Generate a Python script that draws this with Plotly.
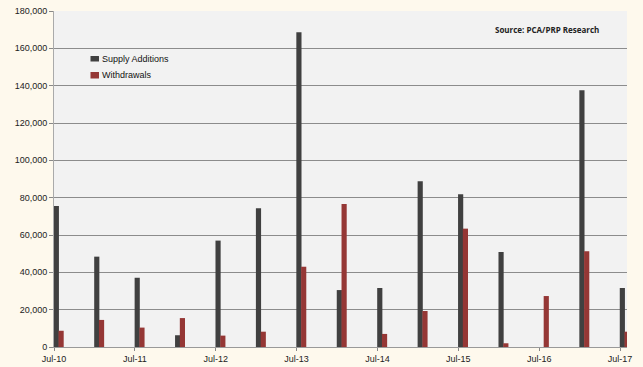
import plotly.graph_objects as go

# Half-yearly periods and the volumes added / withdrawn in each
periods = ["Jul-10", "Jan-11", "Jul-11", "Jan-12", "Jul-12", "Jan-13", "Jul-13", "Jan-14",
           "Jul-14", "Jan-15", "Jul-15", "Jan-16", "Jul-16", "Jan-17", "Jul-17"]
supply_additions = [75500, 48400, 37100, 6300, 57000, 74300, 168600, 30500,
                    31600, 88800, 81800, 50900, 0, 137600, 31600]
withdrawals = [8700, 14500, 10400, 15500, 6100, 8200, 43000, 76600,
               7000, 19300, 63400, 2000, 27300, 51300, 8200]
tick_labels = ["Jul-10", "Jul-11", "Jul-12", "Jul-13", "Jul-14", "Jul-15", "Jul-16", "Jul-17"]
y_ticks = list(range(0, 180001, 20000))

series_names = ["Supply Additions", "Withdrawals"]
series_colors = ["#404040", "#953735"]

# numeric position of each period (in years)
x_pos = [2010.5 + 0.5 * i for i in range(len(periods))]
tick_pos = [2010.5 + i for i in range(len(tick_labels))]

bar_w = 0.064
fig = go.Figure()
fig.add_trace(go.Bar(
    x=x_pos, y=supply_additions, name=series_names[0],
    width=bar_w, offset=-0.003,
    marker=dict(color=series_colors[0], line=dict(width=0)),
    customdata=periods, hovertemplate="%{customdata}: %{y:,}<extra>Supply Additions</extra>",
))
fig.add_trace(go.Bar(
    x=x_pos, y=withdrawals, name=series_names[1],
    width=bar_w, offset=bar_w - 0.008,
    marker=dict(color=series_colors[1], line=dict(width=0)),
    customdata=periods, hovertemplate="%{customdata}: %{y:,}<extra>Withdrawals</extra>",
))

fig.update_layout(
    width=643, height=367,
    margin=dict(l=54, r=16, t=11, b=20),
    paper_bgcolor="#fef9ed",
    plot_bgcolor="#f2f2f2",
    barmode="overlay",
    font=dict(family="Liberation Sans, Arial, sans-serif", size=9, color="#222222"),
    showlegend=False,
    xaxis=dict(
        range=[2010.5, 2017.5 + 7 / 81],
        tickmode="array", tickvals=tick_pos, ticktext=tick_labels,
        ticks="outside", ticklen=3, tickcolor="#888888",
        showline=True, linecolor="#999999", linewidth=1,
        showgrid=False, zeroline=False, automargin=False,
        tickfont=dict(size=9, color="#222222"),
    ),
    yaxis=dict(
        range=[0, 180000],
        tickmode="array", tickvals=y_ticks, tickformat=",d",
        ticks="outside", ticklen=4, tickcolor="#888888",
        showline=True, linecolor="#aaaaaa", linewidth=1,
        showgrid=True, gridcolor="#8c8c8c", gridwidth=1,
        zeroline=False, automargin=False,
        tickfont=dict(size=9, color="#222222"),
    ),
)

# compact legend: colour swatch directly followed by the series name
legend_rows = [(0.866, 0.8497), (0.8185, 0.7991)]
for name, color, (y_top, y_bot) in zip(series_names, series_colors, legend_rows):
    fig.add_shape(
        type="rect", xref="paper", yref="paper",
        x0=0.0637, x1=0.0785, y0=y_bot, y1=y_top,
        fillcolor=color, line=dict(width=0),
    )
    fig.add_annotation(
        text=name, xref="paper", yref="paper",
        x=0.0795, y=(y_top + y_bot) / 2, xanchor="left", yanchor="middle",
        showarrow=False, font=dict(size=9, color="#111111"),
    )

fig.add_annotation(
    text="<b>Source: PCA/PRP Research</b>",
    xref="paper", yref="paper", x=0.955, y=0.945,
    xanchor="right", yanchor="middle", showarrow=False,
    font=dict(size=8, color="#222222", family="Open Sans, Liberation Sans, sans-serif"),
)

fig.write_html("out.html")
